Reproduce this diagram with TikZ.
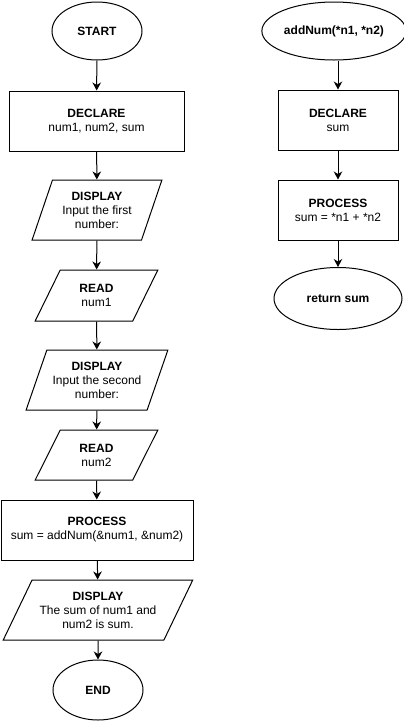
\documentclass[tikz,border=0pt]{standalone}
\usepackage{fontspec}
\setmainfont{Liberation Sans}
\usetikzlibrary{shapes.geometric,arrows.meta}

\begin{document}
\begin{tikzpicture}[
  x=1pt, y=-1pt,
  every node/.style={draw, line width=1pt, align=center, inner sep=1pt,
    font=\fontsize{12}{14}\selectfont},
  term/.style={ellipse, minimum width=90pt, minimum height=58pt},
  procbox/.style={rectangle, minimum width=120pt, minimum height=60pt},
  iobox/.style={trapezium, trapezium stretches=true,
    trapezium left angle=#1, trapezium right angle=180-#1},
  arr/.style={draw, line width=1pt, -{Stealth[length=8pt,width=8.5pt,inset=2.5pt]}}
]
\useasboundingbox (0,0) rectangle (404,721);

\node[term] (start) at (97,31) {\textbf{START}};
\node[procbox, minimum width=175pt] (decl) at (96.5,121)
  {\textbf{DECLARE}\\num1, num2, sum};
\node[iobox=67, minimum width=130pt, minimum height=60pt] (disp1) at (97,210)
  {\textbf{DISPLAY}\\Input the first\\number:};
\node[iobox=63, minimum width=123pt, minimum height=51pt] (read1) at (96.5,295.5)
  {\textbf{READ}\\num1};
\node[iobox=64, minimum width=142pt, minimum height=60pt] (disp2) at (97,380)
  {\textbf{DISPLAY}\\Input the second\\number:};
\node[iobox=63, minimum width=123pt, minimum height=50pt] (read2) at (96.5,455)
  {\textbf{READ}\\num2};
\node[procbox, minimum width=192pt] (proc) at (97,530)
  {\textbf{PROCESS}\\sum = addNum(\&num1, \&num2)};
\node[iobox=56, minimum width=190pt, minimum height=60pt] (disp3) at (98,610)
  {\textbf{DISPLAY}\\The sum of num1 and\\num2 is sum.};
\node[term, minimum height=60pt] (end) at (98,690) {\textbf{END}};

\node[term, minimum width=121pt] (func) at (334,31) {\textbf{addNum(*n1, *n2)}};
\node[procbox] (fdecl) at (338,120) {\textbf{DECLARE}\\sum};
\node[procbox] (fproc) at (338,210) {\textbf{PROCESS}\\sum = *n1 + *n2};
\node[term, minimum width=128pt, minimum height=62pt] (ret) at (338,298.5)
  {\textbf{return sum}};

\path[arr] (start) -- (decl);
\path[arr] (decl) -- (disp1);
\path[arr] (disp1) -- (read1);
\path[arr] (read1) -- (disp2);
\path[arr] (disp2) -- (read2);
\path[arr] (read2) -- (proc);
\path[arr] (proc) -- (disp3);
\path[arr] (disp3) -- (end);

\path[arr] (func.south -| fdecl) -- (fdecl);
\path[arr] (fdecl) -- (fproc);
\path[arr] (fproc) -- (ret);
\end{tikzpicture}
\end{document}
